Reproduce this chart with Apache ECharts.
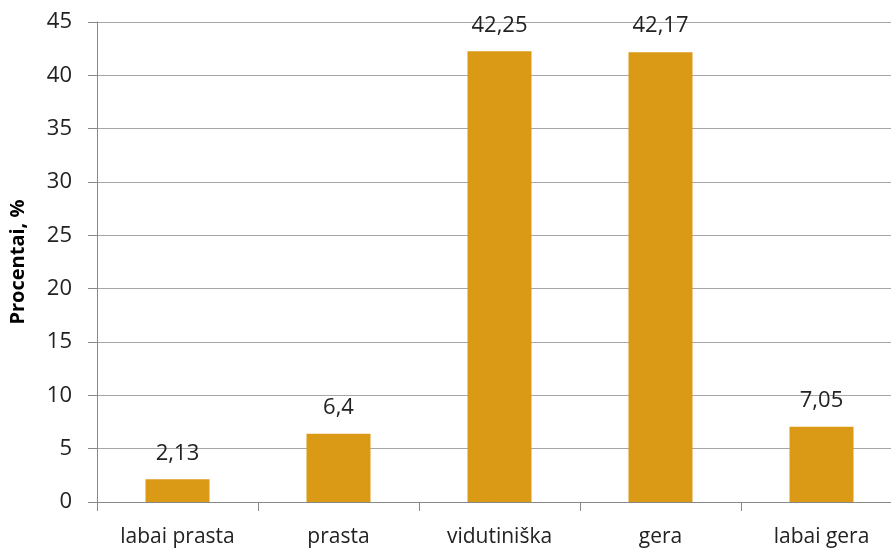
<!DOCTYPE html>
<html>
<head>
<meta charset="utf-8">
<script src="https://cdn.jsdelivr.net/npm/echarts@6/dist/echarts.min.js"></script>
<style>
  html, body { margin: 0; padding: 0; background: #fff; }
  #chart { width: 891px; height: 550px; }
</style>
</head>
<body>
<div id="chart"></div>
<script>
const categories = ['labai prasta', 'prasta', 'vidutiniška', 'gera', 'labai gera'];
const values = [2.13, 6.4, 42.25, 42.17, 7.05];
const valueLabels = ['2,13', '6,4', '42,25', '42,17', '7,05'];
const yTicks = { min: 0, max: 45, interval: 5 };

const chart = echarts.init(document.getElementById('chart'));
const font = '"Open Sans", "Noto Sans", sans-serif';

// plot area runs past the right edge of the picture, as in the original
chart.setOption({
  animation: false,
  grid: { left: 97, top: 22, width: 805, height: 480, outerBoundsMode: 'none', containLabel: false },
  xAxis: {
    type: 'category',
    data: categories,
    axisLine: { lineStyle: { color: '#888', width: 1 } },
    axisTick: { show: true, length: 9, lineStyle: { color: '#888' } },
    axisLabel: { color: '#222', fontSize: 21, fontFamily: font, margin: 25 },
  },
  yAxis: {
    type: 'value',
    min: yTicks.min,
    max: yTicks.max,
    interval: yTicks.interval,
    name: 'Procentai, %',
    nameLocation: 'middle',
    nameGap: 69,
    nameTextStyle: { color: '#000', fontSize: 20, fontWeight: 'bold', fontFamily: font },
    axisLine: { show: true, lineStyle: { color: '#888' } },
    axisTick: { show: true, length: 9, lineStyle: { color: '#888' } },
    axisLabel: { color: '#222', fontSize: 22, fontFamily: font, margin: 25 },
    splitLine: { lineStyle: { color: '#a6a6a6', width: 1 } },
  },
  series: [{
    type: 'bar',
    data: values,
    barWidth: 64,
    itemStyle: { color: '#db9a15' },
    label: {
      show: true,
      position: 'top',
      distance: 15,
      color: '#222',
      fontSize: 22,
      fontFamily: font,
      formatter: (p) => valueLabels[p.dataIndex],
    },
  }],
});
</script>
</body>
</html>
